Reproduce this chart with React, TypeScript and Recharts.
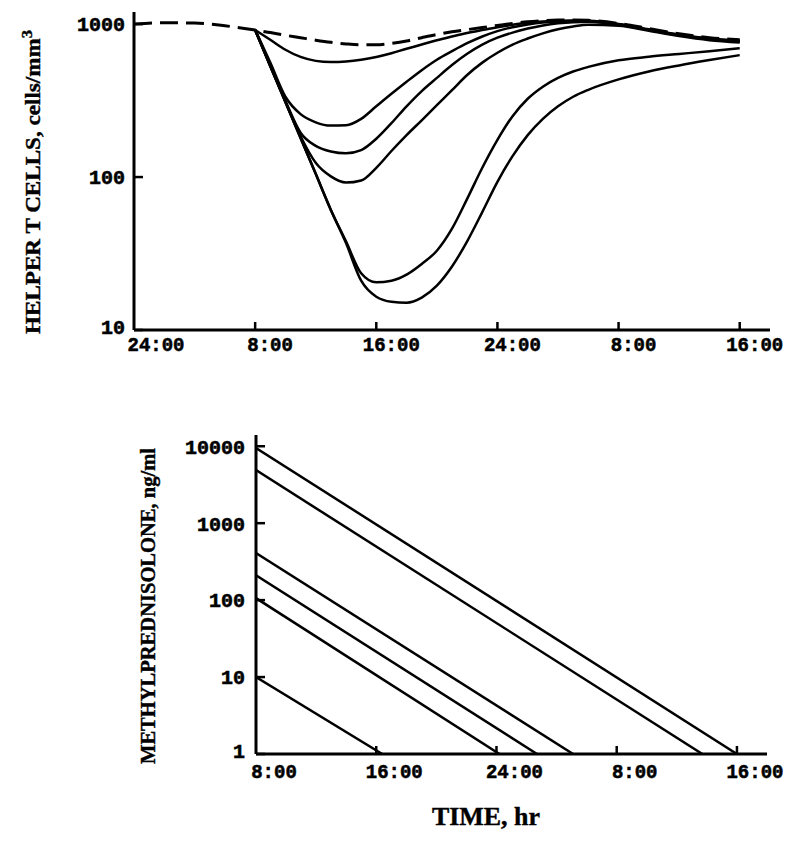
import React from 'react';
import { LineChart, Line, XAxis, YAxis } from 'recharts';

// ---------- Top panel: helper T cells ----------
const hours = [0, 2, 4, 6, 8, 9, 10, 11, 12, 13, 14, 15, 16, 17, 18, 19, 20, 21, 22, 23, 24, 25, 26, 27, 28, 29, 30, 32, 34, 36, 38, 40];
const placebo = [1000, 1020, 1015, 975, 915, 880, 845, 815, 785, 760, 742, 732, 732, 748, 775, 815, 855, 890, 920, 950, 980, 1010, 1035, 1052, 1062, 1065, 1058, 1010, 935, 865, 815, 790];
const dose1 = [null, null, null, null, 915, 790, 680, 610, 575, 565, 570, 585, 610, 645, 690, 735, 785, 830, 875, 915, 955, 990, 1020, 1040, 1052, 1055, 1050, 1002, 925, 855, 805, 782];
const dose2 = [null, null, null, null, 915, 560, 335, 258, 228, 217, 218, 240, 290, 350, 420, 500, 585, 665, 750, 830, 900, 955, 995, 1025, 1042, 1048, 1045, 998, 920, 850, 800, 775];
const dose3 = [null, null, null, null, 915, 540, 315, 195, 160, 147, 143, 150, 178, 225, 290, 365, 445, 540, 640, 735, 815, 880, 935, 980, 1012, 1030, 1035, 992, 915, 845, 795, 768];
const dose4 = [null, null, null, null, 915, 535, 311, 185, 124, 101, 92, 95, 115, 148, 188, 235, 295, 370, 465, 560, 650, 735, 805, 870, 925, 965, 990, 975, 905, 835, 785, 758];
const dose5 = [null, null, null, null, 915, 531, 309, 180, 105, 61, 38, 23.5, 20.5, 21, 23, 27, 33, 46, 72, 115, 175, 250, 325, 390, 445, 490, 525, 580, 612, 638, 665, 695];
const dose6 = [null, null, null, null, 915, 531, 309, 180, 105, 61, 37, 21, 16.5, 15.3, 15.1, 16.3, 19.5, 26, 38, 59, 93, 137, 188, 240, 290, 335, 372, 435, 490, 537, 582, 627];

const topXTicks = [0, 8, 16, 24, 32, 40];
const topXLabels = ['24:00', '8:00', '16:00', '24:00', '8:00', '16:00'];
const topYTicks = [10, 100, 1000];
const topYLabels = ['10', '100', '1000'];

// ---------- Bottom panel: methylprednisolone ----------
const concA = [{ t: 8, v: 9500 }, { t: 40, v: 1 }];
const concB = [{ t: 8, v: 4900 }, { t: 37.7, v: 1 }];
const concC = [{ t: 8, v: 410 }, { t: 29.1, v: 1 }];
const concD = [{ t: 8, v: 210 }, { t: 26.7, v: 1 }];
const concE = [{ t: 8, v: 106 }, { t: 24.2, v: 1 }];
const concF = [{ t: 8, v: 10 }, { t: 16.4, v: 1 }];
const concSeries = [concA, concB, concC, concD, concE, concF];

const botXTicks = [8, 16, 24, 32, 40];
const botXLabels = ['8:00', '16:00', '24:00', '8:00', '16:00'];
const botYTicks = [1, 10, 100, 1000, 10000];
const botYLabels = ['1', '10', '100', '1000', '10000'];

const topData = hours.map((t, i) => ({
  t,
  placebo: placebo[i],
  d1: dose1[i],
  d2: dose2[i],
  d3: dose3[i],
  d4: dose4[i],
  d5: dose5[i],
  d6: dose6[i],
}));

const MONO = '"Liberation Mono", "DejaVu Sans Mono", monospace';
const SERIF = '"Liberation Serif", "DejaVu Serif", serif';

function makeXTick(ticks: number[], labels: string[], dx: number, dyText: number, firstExtra: number) {
  return (props: any) => {
    const { x, y, payload } = props;
    const i = ticks.indexOf(payload.value);
    const label = labels[i] || '';
    const off = dx + (i === 0 ? firstExtra : 0);
    return (
      <g>
        {i > 0 && <line x1={x} y1={y} x2={x} y2={y - 8} stroke="#000" strokeWidth={2.5} />}
        <text
          x={x + off}
          y={y + dyText}
          textAnchor="middle"
          fontFamily={MONO}
          fontWeight="bold"
          fontSize={21}
          fill="#000"
          stroke="#000"
          strokeWidth={0.6}
          textLength={label.length * 11.4}
          lengthAdjust="spacingAndGlyphs"
        >
          {label}
        </text>
      </g>
    );
  };
}

function makeYTick(ticks: number[], labels: string[], gap: number, lift: number) {
  return (props: any) => {
    const { x, y, payload } = props;
    const i = ticks.indexOf(payload.value);
    const label = labels[i] || '';
    return (
      <g>
        <line x1={x} y1={y} x2={x + 9} y2={y} stroke="#000" strokeWidth={2.5} />
        <text
          x={x - gap}
          y={y - (i === 0 ? lift : 0)}
          dy="0.35em"
          textAnchor="end"
          fontFamily={MONO}
          fontWeight="bold"
          fontSize={21}
          fill="#000"
          stroke="#000"
          strokeWidth={0.6}
          textLength={label.length * 12}
          lengthAdjust="spacingAndGlyphs"
        >
          {label}
        </text>
      </g>
    );
  };
}

const axisLine = { stroke: '#000', strokeWidth: 3 };

export default function App() {
  const topKeys = ['d1', 'd2', 'd3', 'd4', 'd5', 'd6'];
  return (
    <div style={{ position: 'absolute', left: 0, top: 0, width: 800, height: 843, background: '#fff' }}>
      <div style={{ position: 'absolute', left: 0, top: 0 }}>
        <LineChart width={800} height={380} data={topData} margin={{ top: 12, right: 30, bottom: 10, left: 0 }}>
          <XAxis
            dataKey="t"
            type="number"
            domain={[0, 42]}
            ticks={topXTicks}
            height={40}
            tickSize={0}
            tickMargin={0}
            axisLine={axisLine}
            tickLine={false}
            tick={makeXTick(topXTicks, topXLabels, 15, 21, 7)}
            interval={0}
          />
          <YAxis
            type="number"
            scale="log"
            domain={[10, 1200]}
            allowDataOverflow
            ticks={topYTicks}
            width={134}
            tickSize={0}
            tickMargin={0}
            axisLine={axisLine}
            tickLine={false}
            tick={makeYTick(topYTicks, topYLabels, 9, 3)}
            interval={0}
          />
          <Line
            dataKey="placebo"
            type="monotone"
            stroke="#000"
            strokeWidth={3}
            strokeDasharray="18 8"
            dot={false}
            activeDot={false}
            isAnimationActive={false}
          />
          {topKeys.map((k) => (
            <Line
              key={k}
              dataKey={k}
              type="monotone"
              stroke="#000"
              strokeWidth={2.5}
              dot={false}
              activeDot={false}
              isAnimationActive={false}
            />
          ))}
        </LineChart>
      </div>
      <div style={{ position: 'absolute', left: 0, top: 420 }}>
        <LineChart width={800} height={423} margin={{ top: 15, right: 33, bottom: 49, left: 0 }}>
          <XAxis
            dataKey="t"
            type="number"
            domain={[8, 42]}
            ticks={botXTicks}
            height={40}
            tickSize={0}
            tickMargin={0}
            axisLine={axisLine}
            tickLine={false}
            tick={makeXTick(botXTicks, botXLabels, 18, 24, 0)}
            interval={0}
            allowDataOverflow
          />
          <YAxis
            dataKey="v"
            type="number"
            scale="log"
            domain={[1, 14000]}
            allowDataOverflow
            ticks={botYTicks}
            width={256}
            tickSize={0}
            tickMargin={0}
            axisLine={axisLine}
            tickLine={false}
            tick={makeYTick(botYTicks, botYLabels, 11, 3)}
            interval={0}
          />
          {concSeries.map((s, i) => (
            <Line
              key={i}
              data={s}
              dataKey="v"
              type="linear"
              stroke="#000"
              strokeWidth={2.5}
              dot={false}
              activeDot={false}
              isAnimationActive={false}
            />
          ))}
        </LineChart>
      </div>
      <svg
        width={800}
        height={843}
        style={{ position: 'absolute', left: 0, top: 0, pointerEvents: 'none' }}
      >
        <text
          transform="translate(40,182) rotate(-90)"
          textAnchor="middle"
          fontFamily={SERIF}
          fontWeight="bold"
          fontSize={21}
          fill="#000"
          stroke="#000"
          strokeWidth={0.4}
          textLength={304}
          lengthAdjust="spacingAndGlyphs"
        >
          HELPER T CELLS, cells/mm<tspan dy={-8} fontSize={15}>3</tspan>
        </text>
        <text
          transform="translate(155,606) rotate(-90)"
          textAnchor="middle"
          fontFamily={SERIF}
          fontWeight="bold"
          fontSize={20}
          fill="#000"
          stroke="#000"
          strokeWidth={0.4}
          textLength={316}
          lengthAdjust="spacingAndGlyphs"
        >
          METHYLPREDNISOLONE, ng/ml
        </text>
        <text
          x={486}
          y={825}
          textAnchor="middle"
          fontFamily={SERIF}
          fontWeight="bold"
          fontSize={25}
          fill="#000"
          stroke="#000"
          strokeWidth={0.4}
          textLength={108}
          lengthAdjust="spacingAndGlyphs"
        >
          TIME, hr
        </text>
      </svg>
    </div>
  );
}
